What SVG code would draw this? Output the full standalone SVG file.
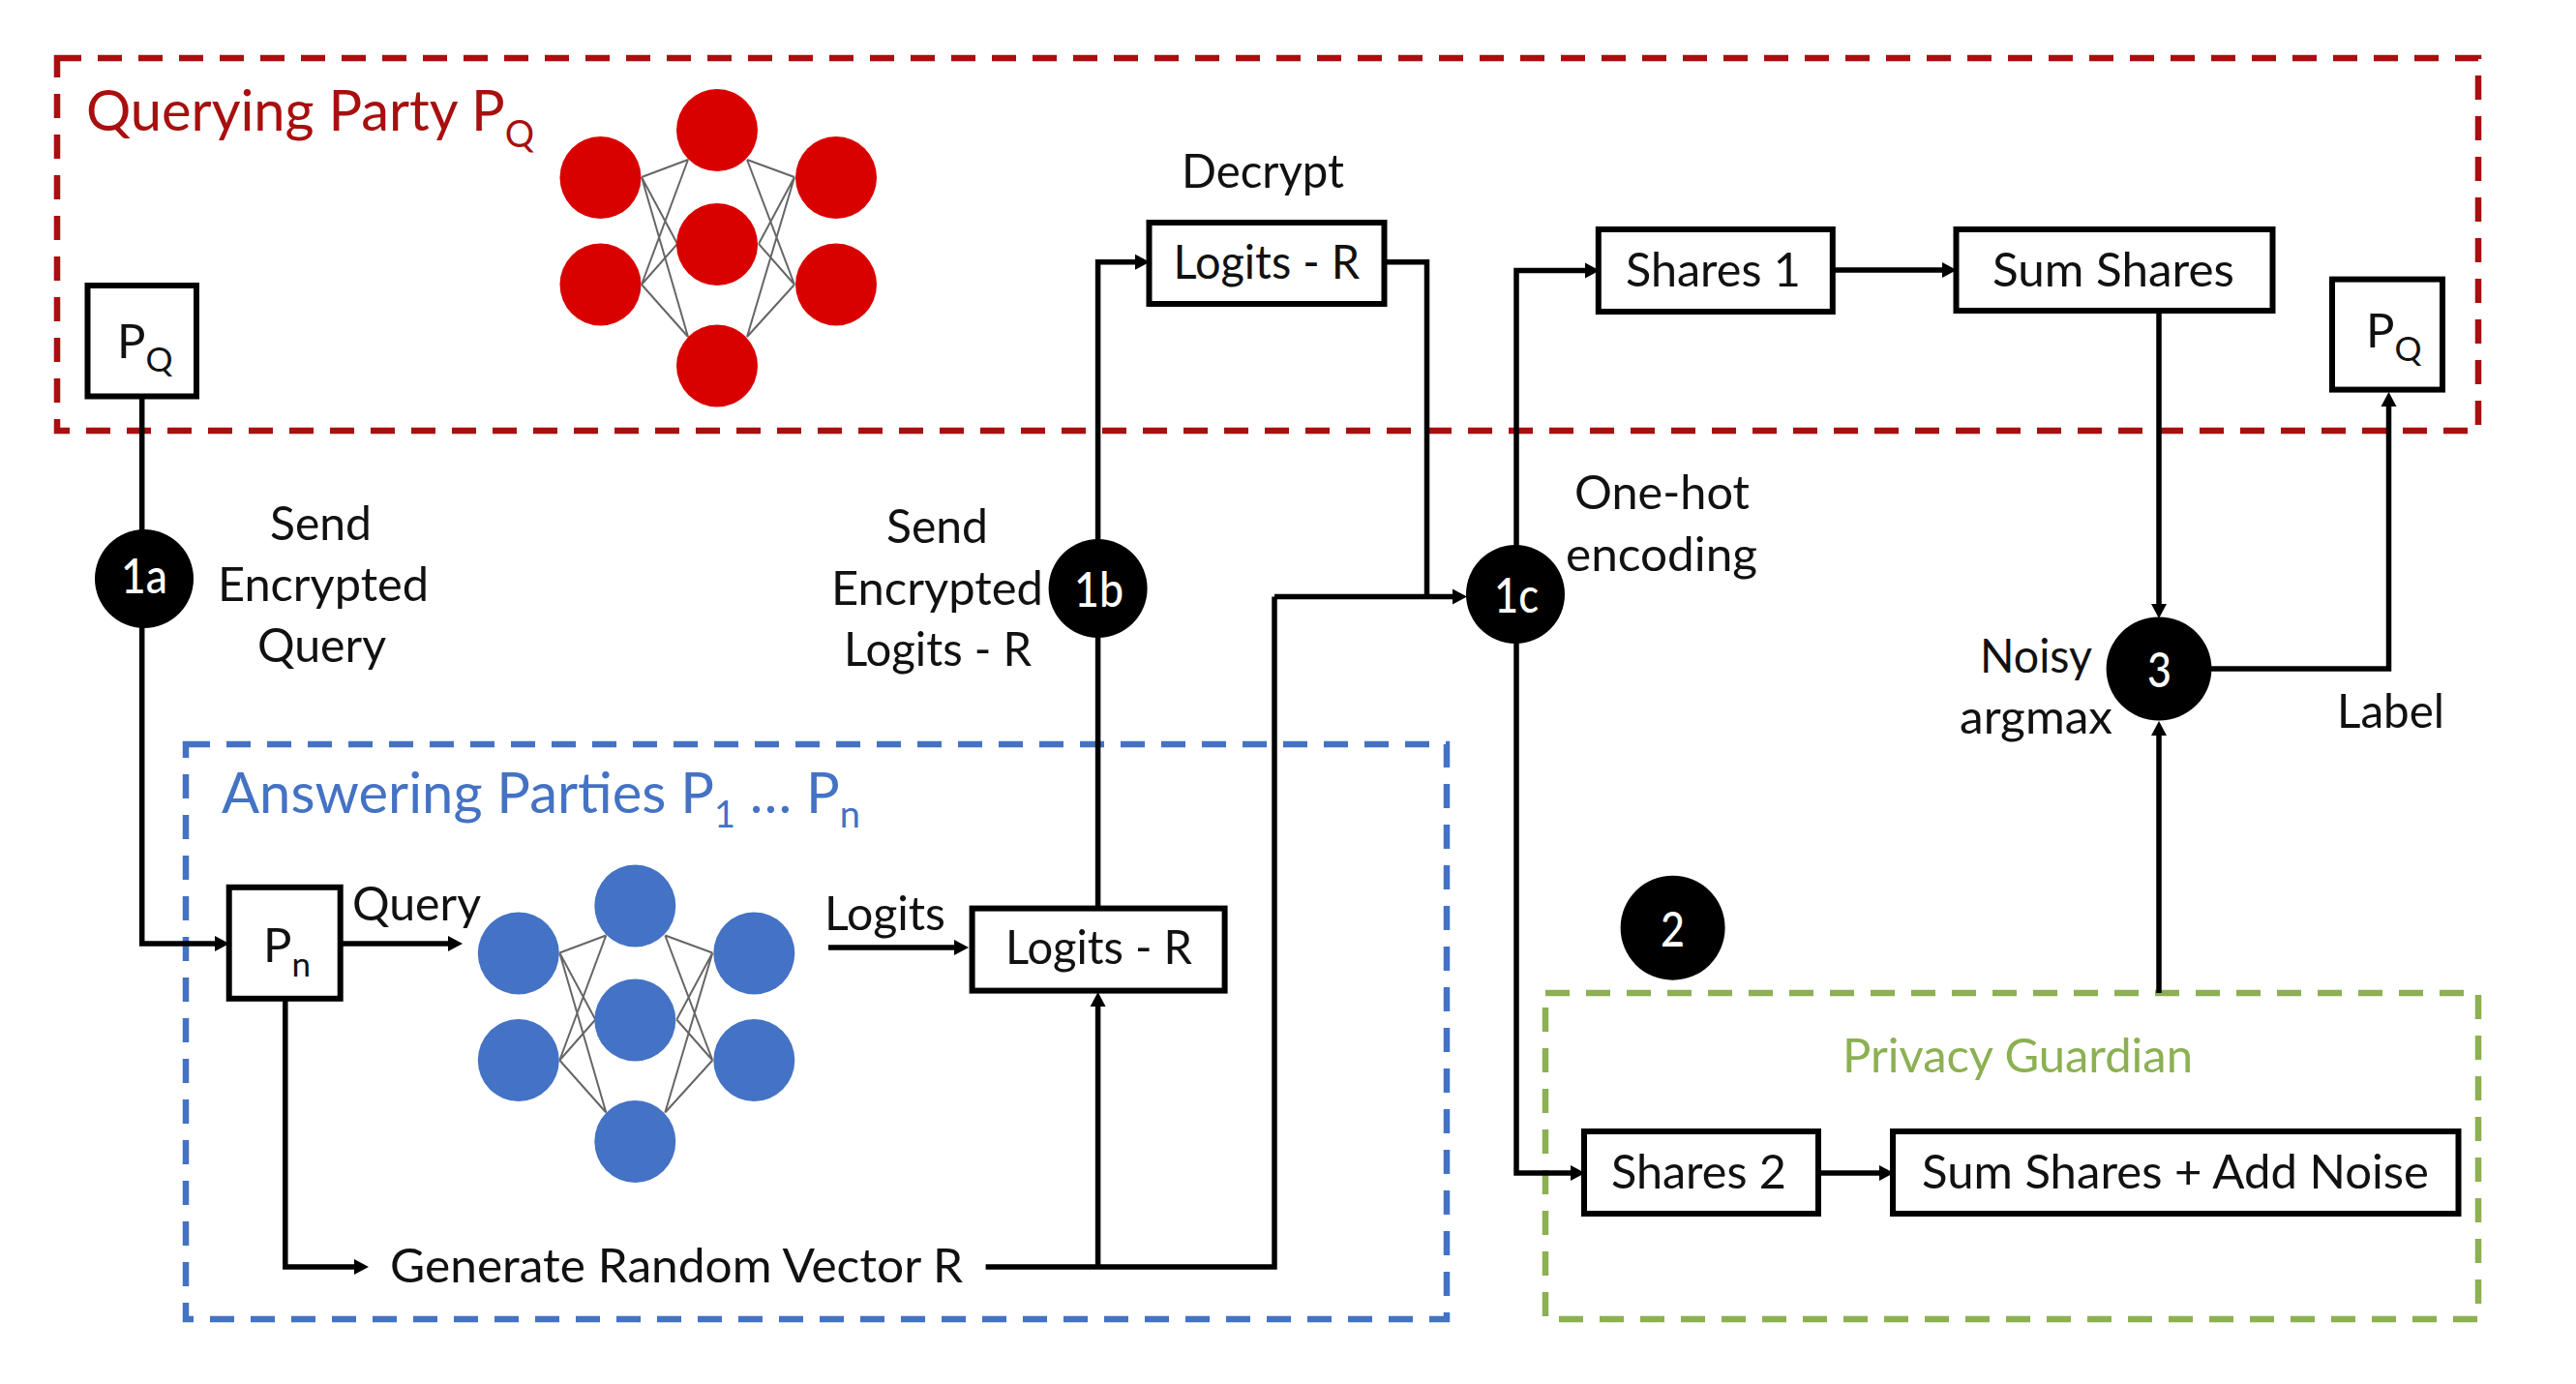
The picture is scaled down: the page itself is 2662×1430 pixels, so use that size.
<svg xmlns="http://www.w3.org/2000/svg" xmlns:xlink="http://www.w3.org/1999/xlink" width="2662" height="1430" viewBox="0 0 2662 1430">
<style>
text{font-family:"Lato","Carlito","Open Sans",sans-serif;font-size:49px;fill:#111}
.w{fill:#fff;font-size:50px;font-weight:500}
.red{fill:#A80F0F;font-size:58px}
.blue{fill:#4472C4;font-size:58px}
.green{fill:#8CB052;font-size:49px}
.zone{fill:none;stroke-width:6.5;stroke-dasharray:25 17}
.box{fill:#fff;stroke:#000;stroke-width:6}
.conn{fill:none;stroke:#000;stroke-width:5.5}
.arr{marker-end:url(#ah)}
.dot{fill:#000}
.nl{stroke:#666;stroke-width:2;fill:none}
</style>
<defs>
<marker id="ah" markerUnits="userSpaceOnUse" markerWidth="18" markerHeight="18" refX="4" refY="9" orient="auto"><path d="M0 1 L15 9 L0 17 Z" fill="#000"/></marker>
<g id="net">
<path class="nl" d="M663 183L711 165M663 183L700 252M663 183L711 348M663 294L711 165M663 294L700 252M663 294L711 348M821 183L772 165M821 183L784 252M821 183L772 348M821 294L772 165M821 294L784 252M821 294L772 348"/>
<ellipse cx="620.5" cy="183.6" rx="42" ry="42.5"/>
<ellipse cx="620.5" cy="294" rx="42" ry="42.5"/>
<ellipse cx="741" cy="134.5" rx="42" ry="42.5"/>
<ellipse cx="741" cy="252.5" rx="42" ry="42.5"/>
<ellipse cx="741" cy="378" rx="42" ry="42.5"/>
<ellipse cx="864" cy="183.6" rx="42" ry="42.5"/>
<ellipse cx="864" cy="294" rx="42" ry="42.5"/>
</g>
</defs>
<rect width="2662" height="1430" fill="#fff"/>
<g id="zones">
<rect class="zone" stroke="#A80F0F" x="59" y="60" width="2502" height="385"/>
<rect class="zone" stroke="#4472C4" x="192" y="769" width="1303" height="594"/>
<rect class="zone" stroke="#8CB052" x="1597" y="1026" width="964" height="337"/>
<text class="red" x="89" y="134.5" textLength="463" lengthAdjust="spacingAndGlyphs">Querying Party P<tspan font-size="38" dy="17">Q</tspan></text>
<text class="blue" x="229" y="840" textLength="660" lengthAdjust="spacingAndGlyphs">Answering Parties P<tspan font-size="38" dy="15">1</tspan><tspan dy="-15"> … P</tspan><tspan font-size="38" dy="15">n</tspan></text>
<text class="green" x="1904" y="1108" textLength="362" lengthAdjust="spacingAndGlyphs">Privacy Guardian</text>
</g>
<g id="networks">
<use xlink:href="#net" href="#net" fill="#D90000"/>
<use xlink:href="#net" href="#net" fill="#4472C4" transform="translate(-84.7 801.5)"/>
</g>
<g id="connectors">
<path class="conn arr" d="M146.7 412V975H226"/>
<path class="conn arr" d="M353 975H467"/>
<path class="conn arr" d="M856 979H990"/>
<path class="conn arr" d="M294.8 1032V1309H370"/>
<path class="conn" d="M1018.6 1309H1317V616.5"/>
<path class="conn arr" d="M1134.6 1309V1036"/>
<path class="conn arr" d="M1134.6 938V270.8H1177"/>
<path class="conn" d="M1430 270.8H1474.5V616.5"/>
<path class="conn arr" d="M1317 616.5H1505"/>
<path class="conn arr" d="M1567 614V279.5H1642"/>
<path class="conn arr" d="M1567 614V1212H1627"/>
<path class="conn arr" d="M1894 279H2011"/>
<path class="conn arr" d="M1879 1212H1946"/>
<path class="conn arr" d="M2231 321V628"/>
<path class="conn arr" d="M2231 1026V756"/>
<path class="conn arr" d="M2285 691H2468.5V416"/>
</g>
<g id="node-pq-left"><rect class="box" x="90.5" y="295" width="112.5" height="114.5"/><text x="121" y="369.6">P<tspan font-size="35" dy="14">Q</tspan></text></g>
<g id="node-pq-right"><rect class="box" x="2410" y="288.6" width="114" height="114"/><text x="2445" y="359.3">P<tspan font-size="35" dy="14">Q</tspan></text></g>
<g id="node-pn"><rect class="box" x="236.7" y="916.8" width="115" height="115"/><text x="272" y="994">P<tspan font-size="35" dy="15">n</tspan></text></g>
<g id="node-logits-answer"><rect class="box" x="1004.6" y="938.6" width="261" height="85"/><text x="1039" y="996" textLength="193" lengthAdjust="spacingAndGlyphs">Logits - R</text></g>
<g id="node-logits-decrypt"><rect class="box" x="1187.5" y="230" width="243" height="84"/><text x="1212.6" y="288" textLength="192.5" lengthAdjust="spacingAndGlyphs">Logits - R</text></g>
<g id="node-shares1"><rect class="box" x="1651.8" y="237" width="242" height="85"/><text x="1680" y="296" textLength="181" lengthAdjust="spacingAndGlyphs">Shares 1</text></g>
<g id="node-sumshares"><rect class="box" x="2021.5" y="237" width="327" height="84"/><text x="2059" y="295.5" textLength="250" lengthAdjust="spacingAndGlyphs">Sum Shares</text></g>
<g id="node-shares2"><rect class="box" x="1637" y="1169" width="242" height="85"/><text x="1665" y="1228" textLength="181" lengthAdjust="spacingAndGlyphs">Shares 2</text></g>
<g id="node-sumnoise"><rect class="box" x="1956" y="1169" width="584.5" height="85"/><text x="1986" y="1228" textLength="524" lengthAdjust="spacingAndGlyphs">Sum Shares + Add Noise</text></g>
<g id="node-1a"><ellipse class="dot" cx="149" cy="598" rx="51" ry="51"/><text class="w" x="125" y="613" textLength="48" lengthAdjust="spacingAndGlyphs">1a</text></g>
<g id="node-1b"><ellipse class="dot" cx="1134.6" cy="608" rx="51" ry="51"/><text class="w" x="1110" y="626.6" textLength="51" lengthAdjust="spacingAndGlyphs">1b</text></g>
<g id="node-1c"><ellipse class="dot" cx="1566" cy="614" rx="51" ry="51"/><text class="w" x="1544" y="632.5" textLength="46" lengthAdjust="spacingAndGlyphs">1c</text></g>
<g id="node-2"><ellipse class="dot" cx="1728.6" cy="958.7" rx="54" ry="54"/><text class="w" x="1716" y="978" textLength="25" lengthAdjust="spacingAndGlyphs">2</text></g>
<g id="node-3"><ellipse class="dot" cx="2231" cy="691" rx="54.4" ry="53.5"/><text class="w" x="2219" y="710" textLength="25" lengthAdjust="spacingAndGlyphs">3</text></g>
<g id="labels">
<text x="279" y="558" textLength="105" lengthAdjust="spacingAndGlyphs">Send</text>
<text x="225" y="621" textLength="218" lengthAdjust="spacingAndGlyphs">Encrypted</text>
<text x="266" y="684" textLength="133" lengthAdjust="spacingAndGlyphs">Query</text>
<text x="916" y="561" textLength="105" lengthAdjust="spacingAndGlyphs">Send</text>
<text x="859" y="625" textLength="219" lengthAdjust="spacingAndGlyphs">Encrypted</text>
<text x="872" y="688" textLength="194" lengthAdjust="spacingAndGlyphs">Logits - R</text>
<text x="1221" y="194" textLength="168" lengthAdjust="spacingAndGlyphs">Decrypt</text>
<text x="1627" y="526" textLength="181" lengthAdjust="spacingAndGlyphs">One-hot</text>
<text x="1618" y="590" textLength="198" lengthAdjust="spacingAndGlyphs">encoding</text>
<text x="2046" y="695" textLength="116" lengthAdjust="spacingAndGlyphs">Noisy</text>
<text x="2025" y="758" textLength="158" lengthAdjust="spacingAndGlyphs">argmax</text>
<text x="2415" y="752" textLength="111" lengthAdjust="spacingAndGlyphs">Label</text>
<text x="364" y="951" textLength="133" lengthAdjust="spacingAndGlyphs">Query</text>
<text x="852" y="961" textLength="125" lengthAdjust="spacingAndGlyphs">Logits</text>
<text x="403" y="1325" textLength="592" lengthAdjust="spacingAndGlyphs">Generate Random Vector R</text>
</g>
</svg>
